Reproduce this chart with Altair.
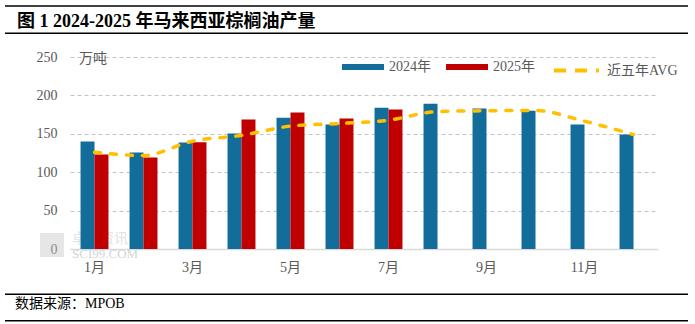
import altair as alt
import pandas as pd

months = ["1月", "2月", "3月", "4月", "5月", "6月", "7月", "8月", "9月", "10月", "11月", "12月"]
v2024 = [140, 125.6, 138.7, 150.4, 171, 162, 184, 189, 183, 180, 162, 149]
v2025 = [123, 119, 139, 168.6, 177.7, 169.9, 181.6]
avg5 = [126, 121.7, 140.4, 148, 160, 163.4, 167.7, 179, 180, 180.3, 166.4, 149]
years = ["2024年", "2025年"]
avg_name = "近五年AVG"
y_ticks = [0, 50, 100, 150, 200, 250]
odd_labels = ["1月", "3月", "5月", "7月", "9月", "11月"]

title_text = "图 1 2024-2025 年马来西亚棕榈油产量"
unit_text = "万吨"
source_text = "数据来源：MPOB"

rows = []
for m, v in zip(months, v2024):
    rows.append({"month": m, "year": years[0], "value": v})
for m, v in zip(months, v2025):
    rows.append({"month": m, "year": years[1], "value": v})
bars_df = pd.DataFrame(rows)
avg_df = pd.DataFrame({"month": months, "value": avg5, "series": [avg_name] * len(months)})

FONT = "Liberation Serif, Noto Sans CJK SC"
GRAY = "#595959"

one = alt.Data(values=[{}])

x_axis = alt.Axis(labelExpr="indexof(" + str(odd_labels) + ", datum.label) >= 0 ? datum.label : ''",
                  labelAngle=0, ticks=False, domain=True, domainColor="#d9d9d9",
                  domainWidth=1.5, labelPadding=11, labelFontSize=14,
                  labelColor=GRAY, labelFont=FONT, grid=False, labelOverlap=False, title=None)
x_scale = alt.Scale(paddingInner=0.43, paddingOuter=0.215)
y_scale = alt.Scale(domain=[0, 250], nice=False)
y_axis = alt.Axis(values=y_ticks, grid=True, gridDash=[4, 3], gridColor="#c4c4c4",
                  domain=False, ticks=False, labelPadding=13, labelFontSize=14,
                  labelColor=GRAY, labelFont=FONT, title=None, labelOverlap=False)

# watermark
wm_rect = alt.Chart(one).mark_rect(color="#c8c8c8", opacity=0.45).encode(
    x=alt.value(-30), x2=alt.value(-6), y=alt.value(176), y2=alt.value(200))
wm_text1 = alt.Chart(one).mark_text(text="卓创资讯", align="left", baseline="middle",
                                      fontSize=14, color="#e2e2e2", font="Noto Sans CJK SC").encode(
    x=alt.value(2), y=alt.value(182))
wm_text2 = alt.Chart(one).mark_text(text="SCI99.COM", align="left", baseline="middle",
                                      fontSize=13, color="#d4d4d4", font="Liberation Serif").encode(
    x=alt.value(2), y=alt.value(197))

bars = alt.Chart(bars_df).mark_bar().encode(
    x=alt.X("month:N", sort=months, scale=x_scale, axis=x_axis),
    xOffset=alt.XOffset("year:N", scale=alt.Scale(domain=years, paddingInner=0)),
    y=alt.Y("value:Q", scale=y_scale, axis=y_axis),
    color=alt.Color("year:N", scale=alt.Scale(domain=years, range=["#136D9B", "#C00000"]),
                    legend=alt.Legend(title=None, orient="none", direction="horizontal",
                                      legendX=272, legendY=-11,
                                      symbolType="M-1,-0.14H1V0.14H-1Z", symbolSize=1764,
                                      symbolStrokeWidth=0, symbolOpacity=1,
                                      labelFontSize=14, labelColor=GRAY, labelFont=FONT,
                                      labelOffset=5, columnPadding=15, padding=0)),
)

line = alt.Chart(avg_df).mark_line(strokeWidth=3.5, strokeDash=[6, 10], strokeCap="round",
                                   interpolate="monotone").encode(
    x=alt.X("month:N", sort=months, scale=x_scale, axis=x_axis),
    y=alt.Y("value:Q", scale=y_scale, axis=y_axis),
    color=alt.Color("series:N", scale=alt.Scale(domain=[avg_name], range=["#FFC000"]),
                    legend=alt.Legend(title=None, orient="none", legendX=482, legendY=-11,
                                      symbolType="stroke", symbolSize=2025, symbolStrokeWidth=4,
                                      symbolDash=[12, 9], labelFontSize=14, labelColor=GRAY,
                                      labelFont=FONT, labelOffset=6, padding=0)),
)

unit = alt.Chart(one).mark_text(text=unit_text, align="left", baseline="middle",
                                fontSize=14, color=GRAY, font="Noto Sans CJK SC").encode(
    x=alt.value(9), y=alt.value(1.5))

title = alt.Chart(one).mark_text(text=title_text, align="left", baseline="middle",
                                 fontSize=18, fontWeight="bold", color="#000000",
                                 font=FONT).encode(x=alt.value(-53), y=alt.value(-35))
source = alt.Chart(one).mark_text(text=source_text, align="left", baseline="middle",
                                  fontSize=14, color="#000000", font=FONT).encode(
    x=alt.value(-55), y=alt.value(247))

def hline(yv):
    return alt.Chart(one).mark_rule(color="#000000", strokeWidth=1.5).encode(
        x=alt.value(-65), x2=alt.value(618), y=alt.value(yv))

chart = alt.layer(
    wm_rect, wm_text1, wm_text2, bars, line, unit, title, source,
    hline(-51), hline(-23.7), hline(237.3), hline(263.7)
).resolve_scale(color="independent").properties(
    width=588, height=192,
    padding={"left": 70, "top": 57, "right": 37, "bottom": 75},
    autosize=alt.AutoSizeParams(type="none"),
    background="white",
).configure_view(stroke=None)

chart.save("out.html", embed_options={"renderer": "svg", "actions": False})
